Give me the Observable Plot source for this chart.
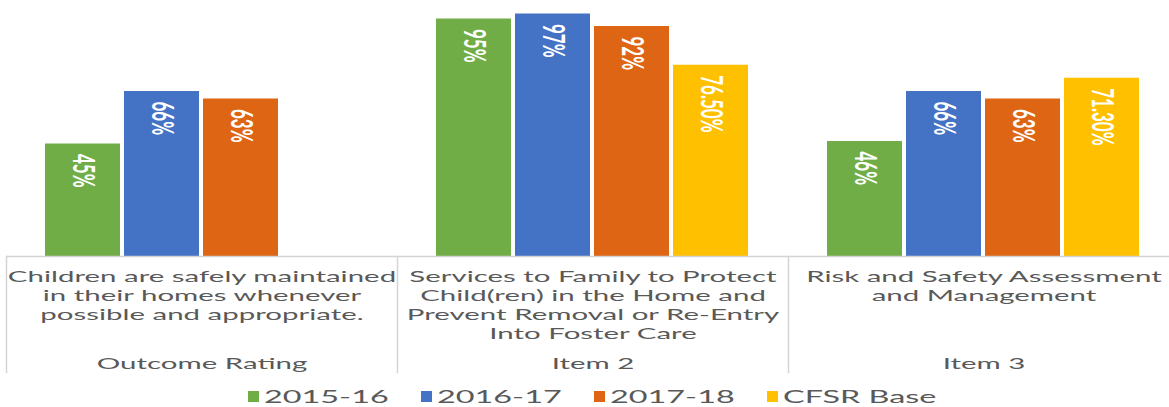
<!DOCTYPE html>
<html><head><meta charset="utf-8">
<script src="https://cdn.jsdelivr.net/npm/d3@7"></script>
<script src="https://cdn.jsdelivr.net/npm/@observablehq/plot@0.6"></script>
<style>
html,body{margin:0;padding:0;background:#fff;overflow:hidden;}
#chart svg{display:block;}
#legend{position:relative;height:28px;font-family:Lato,sans-serif;font-size:17.5px;color:#595959;}
.item{position:absolute;top:0;height:28px;display:flex;align-items:center;}
.sw{width:11px;height:11px;margin-right:5px;flex:none;}
.lt{display:inline-block;transform:scaleX(1.85);transform-origin:left center;white-space:nowrap;}
</style></head><body>
<div id="chart"></div>
<div id="legend"></div>
<script>
// ---- data ----
const groups = ["Outcome Rating", "Item 2", "Item 3"];
const groupDescriptions = [
  "Children are safely maintained\nin their homes whenever\npossible and appropriate.",
  "Services to Family to Protect\nChild(ren) in the Home and\nPrevent Removal or Re-Entry\nInto Foster Care",
  "Risk and Safety Assessment\nand Management"
];
const series = ["2015-16", "2016-17", "2017-18", "CFSR Base"];
const values2015_16 = [45, 95, 46];
const values2016_17 = [66, 97, 66];
const values2017_18 = [63, 92, 63];
const valuesCFSR = [null, 76.5, 71.3];
const colors = ["#70AD47", "#4472C4", "#DE6514", "#FFC000"];

// ---- tables built from the arrays ----
const seriesValues = [values2015_16, values2016_17, values2017_18, valuesCFSR];
const rows = [];
groups.forEach((g, i) => {
  series.forEach((s, j) => {
    const v = seriesValues[j][i];
    if (v != null) rows.push({
      group: g, series: s, value: v,
      label: (s === "CFSR Base" ? d3.format(".2f")(v) : d3.format("d")(v)) + "%"
    });
  });
});
const groupInfo = groups.map((g, i) => ({group: g, description: groupDescriptions[i]}));

const H = 382;
const lineColor = "#d4d4d4";
const textColor = "#595959";

const chart = Plot.plot({
  width: 1169,
  height: H,
  marginTop: 6,
  marginBottom: H - 256,
  marginLeft: 6,
  marginRight: 0,
  style: {fontFamily: "Lato, sans-serif", background: "#fff"},
  fx: {domain: groups, range: [6, 1179], padding: 0, axis: null, label: null},
  x: {domain: series, paddingInner: 0.05, paddingOuter: 0.47, axis: null},
  y: {domain: [0, 100], axis: null},
  color: {domain: series, range: colors},
  marks: [
    Plot.barY(rows, {fx: "group", x: "series", y: "value", fill: "series"}),
    Plot.text(rows, {
      fx: "group", x: "series", y: "value", text: "label",
      rotate: 90, textAnchor: "start", lineAnchor: "middle", dy: 10,
      fill: "white", fontWeight: "bold", fontSize: 17
    }),
    Plot.ruleY([0], {stroke: lineColor, strokeWidth: 1.5}),
    Plot.frame({anchor: "left", insetTop: 250, insetBottom: -116, stroke: lineColor, strokeWidth: 1.5}),
    Plot.text(groupInfo, {
      fx: "group", text: "description", frameAnchor: "bottom",
      lineAnchor: "top", dy: 12, lineHeight: 1.18, fontSize: 16, fill: textColor
    }),
    Plot.text(groupInfo, {
      fx: "group", text: "group", frameAnchor: "bottom",
      lineAnchor: "top", dy: 101, fontSize: 16, fill: textColor
    })
  ]
});

// widen glyphs to match the reference's stretched lettering
d3.select(chart).selectAll("g[aria-label='text'] text").each(function() {
  let t = this.getAttribute("transform");
  if (!t) {
    const x = this.getAttribute("x") || 0, y = this.getAttribute("y") || 0;
    this.removeAttribute("x"); this.removeAttribute("y");
    t = `translate(${x},${y})`;
  }
  this.setAttribute("transform", t + (t.includes("rotate") ? " scale(1,1.8)" : " scale(1.84,1)"));
});

document.getElementById("chart").appendChild(chart);

// legend
const legend = document.getElementById("legend");
series.forEach((s, i) => {
  const item = document.createElement("div");
  item.className = "item";
  item.style.left = (248 + 173 * i) + "px";
  const sw = document.createElement("span");
  sw.className = "sw";
  sw.style.background = colors[i];
  const lt = document.createElement("span");
  lt.className = "lt";
  lt.textContent = s;
  item.appendChild(sw); item.appendChild(lt);
  legend.appendChild(item);
});
</script>
</body></html>
